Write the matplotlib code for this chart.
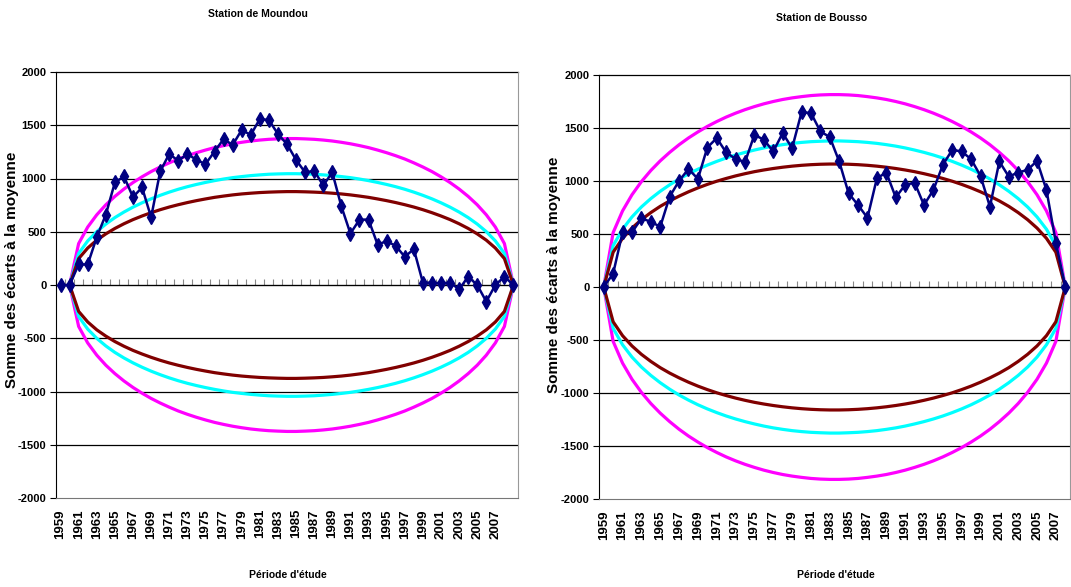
import matplotlib
matplotlib.use('Agg')
import matplotlib.pyplot as plt

# cumulative deviations from the mean
mo_years = list(range(1959, 2010))
mo_cumul = [0, 0, 193, 193, 449, 661, 963, 1019, 826, 916,
            636, 1066, 1231, 1166, 1231, 1175, 1135, 1253, 1371, 1315,
            1456, 1409, 1559, 1549, 1418, 1322, 1175, 1057, 1072, 935,
            1057, 739, 483, 614, 614, 380, 411, 368, 265, 337,
            22, 22, 16, 22, -40, 78, 0, -156, 0, 78, 0]

bo_years = list(range(1959, 2009))
bo_cumul = [0, 126, 515, 515, 647, 616, 568, 852, 1001, 1114,
            1020, 1316, 1405, 1269, 1209, 1178, 1436, 1389, 1279, 1452,
            1310, 1648, 1642, 1468, 1414, 1184, 884, 773, 653, 1026,
            1080, 846, 963, 985, 773, 916, 1152, 1294, 1279, 1206,
            1048, 758, 1184, 1042, 1080, 1105, 1190, 916, 417, 0]

# Bois ellipses, upper half (lower half is the mirror)
mo_ell_years = list(range(1960, 2010))
mo_ell_mag = [0, 389, 544, 659, 753, 832, 901, 962, 1016, 1065, 1108, 1147, 1183, 1214, 1242, 1267, 1290,
              1309, 1326, 1340, 1352, 1361, 1368, 1372, 1375, 1375, 1372, 1368, 1361, 1352, 1340, 1326,
              1309, 1290, 1267, 1242, 1214, 1183, 1147, 1108, 1065, 1016, 962, 901, 832, 753, 659, 544, 389, 0]
mo_ell_cyan = [0, 296, 414, 501, 572, 633, 685, 731, 772, 809, 842, 872, 899, 923, 944, 963, 980, 995,
               1008, 1018, 1027, 1034, 1040, 1043, 1045, 1045, 1043, 1040, 1034, 1027, 1018, 1008, 995,
               980, 963, 944, 923, 899, 872, 842, 809, 772, 731, 685, 633, 572, 501, 414, 296, 0]
mo_ell_brown = [0, 248, 347, 421, 480, 531, 575, 614, 648, 679, 707, 732, 754, 774, 792, 808, 823, 835,
                846, 855, 862, 868, 872, 875, 877, 877, 875, 872, 868, 862, 855, 846, 835, 823, 808, 792,
                774, 754, 732, 707, 679, 648, 614, 575, 531, 480, 421, 347, 248, 0]

bo_ell_years = list(range(1959, 2009))
bo_ell_mag = [0, 513, 718, 870, 994, 1099, 1190, 1270, 1342, 1406, 1463, 1515, 1561, 1603, 1640, 1673,
              1702, 1728, 1750, 1769, 1784, 1796, 1806, 1812, 1815, 1815, 1812, 1806, 1796, 1784, 1769,
              1750, 1728, 1702, 1673, 1640, 1603, 1561, 1515, 1463, 1406, 1342, 1270, 1190, 1099, 994,
              870, 718, 513, 0]
bo_ell_cyan = [0, 390, 545, 661, 755, 834, 903, 964, 1019, 1067, 1111, 1150, 1185, 1217, 1245, 1270,
               1292, 1312, 1329, 1343, 1355, 1364, 1371, 1375, 1378, 1378, 1375, 1371, 1364, 1355, 1343,
               1329, 1312, 1292, 1270, 1245, 1217, 1185, 1150, 1111, 1067, 1019, 964, 903, 834, 755, 661,
               545, 390, 0]
bo_ell_brown = [0, 328, 459, 556, 635, 702, 761, 812, 857, 898, 935, 968, 998, 1024, 1048, 1069, 1088,
                1104, 1118, 1130, 1140, 1148, 1154, 1158, 1160, 1160, 1158, 1154, 1148, 1140, 1130, 1118,
                1104, 1088, 1069, 1048, 1024, 998, 968, 935, 898, 857, 812, 761, 702, 635, 556, 459, 328, 0]

label_years = list(range(1959, 2008, 2))
y_ticks = [2000, 1500, 1000, 500, 0, -500, -1000, -1500, -2000]

font = ['Liberation Sans', 'DejaVu Sans']

W, H = 1071, 587


def draw_station(ax, years, cumul, ell_years, ellipses):
    for vals, col in ellipses:
        ax.plot(ell_years, vals, color=col, lw=2.3, zorder=3)
        ax.plot(ell_years, [-v for v in vals], color=col, lw=2.3, zorder=3)
    ax.plot(years, cumul, color='#000080', lw=1.8, marker='d', ms=7.5, zorder=4)

    ax.set_xlim(years[0] - 0.5, years[-1] + 0.5)
    ax.set_ylim(-2000, 2000)
    ax.set_yticks(y_ticks)
    ax.set_yticklabels([str(v) for v in y_ticks], fontfamily=font, fontweight='bold', fontsize=8)
    ax.tick_params(axis='y', direction='out', length=4, width=0.8, pad=3)
    for v in y_ticks[1:-1]:
        ax.axhline(v, color='black', lw=0.9, zorder=1)
    ax.axhline(2000, color='black', lw=0.9, zorder=1, clip_on=False)

    ax.set_xticks(label_years)
    ax.set_xticklabels([str(y) for y in label_years], rotation=90, fontfamily=font,
                       fontweight='bold', fontsize=9.5)
    ax.tick_params(axis='x', length=0, pad=8)

    # category axis through zero, ticks between categories
    sec = ax.secondary_xaxis(0.5)
    sec.set_xticks([y - 0.5 for y in years] + [years[-1] + 0.5])
    sec.set_xticklabels([])
    sec.tick_params(direction='out', length=4, color='#888888', width=0.8)
    sec.spines['bottom'].set_color('black')
    sec.spines['bottom'].set_linewidth(1.0)

    ax.spines['top'].set_visible(False)
    ax.spines['right'].set_color('#999999')
    ax.spines['bottom'].set_color('#777777')
    ax.spines['left'].set_color('black')


fig = plt.figure(figsize=(W / 100, H / 100), dpi=100)
ax1 = fig.add_axes([56 / W, 89 / H, 462 / W, 426 / H])
ax2 = fig.add_axes([599 / W, 88 / H, 471 / W, 424 / H])

draw_station(ax1, mo_years, mo_cumul, mo_ell_years,
             [(mo_ell_mag, '#FF00FF'), (mo_ell_cyan, '#00FFFF'), (mo_ell_brown, '#800000')])
draw_station(ax2, bo_years, bo_cumul, bo_ell_years,
             [(bo_ell_mag, '#FF00FF'), (bo_ell_cyan, '#00FFFF'), (bo_ell_brown, '#800000')])

# titles and axis labels placed like in the original sheet
fig.text(258 / W, 1 - 14 / H, 'Station de Moundou', ha='center', va='center',
         fontfamily=font, fontweight='bold', fontsize=7.5)
fig.text(822 / W, 1 - 18 / H, 'Station de Bousso', ha='center', va='center',
         fontfamily=font, fontweight='bold', fontsize=7.5)
for xc, yc in [(12, 270), (554, 275)]:
    fig.text(xc / W, 1 - yc / H, 'Somme des écarts à la moyenne', rotation=90, ha='center', va='center',
             fontfamily=font, fontweight='bold', fontsize=11)
for xc in [288, 836]:
    fig.text(xc / W, 1 - 575 / H, "Période d'étude", ha='center', va='center',
             fontfamily=font, fontweight='bold', fontsize=7.5)

fig.savefig('out.png', dpi=100)
